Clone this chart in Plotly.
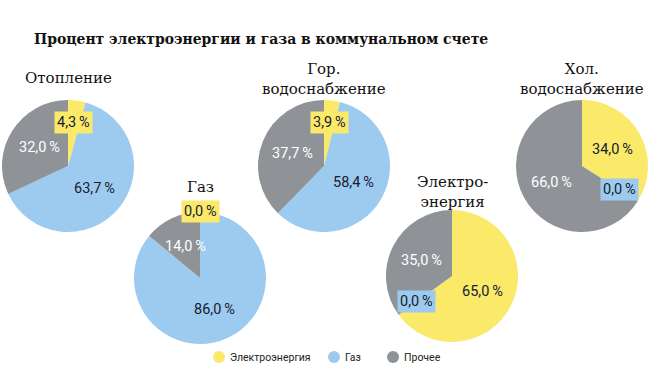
import math
import plotly.graph_objects as go

title = "Процент электроэнергии и газа в коммунальном счете"
series_names = ["Электроэнергия", "Газ", "Прочее"]
colors = ["#FBE96A", "#9DCBF0", "#8F9398"]

chart_titles = ["Отопление", "Газ", "Гор.<br>водоснабжение", "Электро-<br>энергия", "Хол.<br>водоснабжение"]
elec = [4.3, 0.0, 3.9, 65.0, 34.0]
gas = [63.7, 86.0, 58.4, 0.0, 0.0]
other = [32.0, 14.0, 37.7, 35.0, 66.0]

W, H = 650, 386
R = 66
centers = [(68, 166), (200, 278), (324, 166), (452, 276), (582, 166)]
title_y = [78, 187, 79, 192, 79]
legend_marker_x = [219, 334, 393]
legend_y = 357

fig = go.Figure()
annotations = []
shapes = []
for i, name in enumerate(chart_titles):
    cx, cy = centers[i]
    vals = [elec[i], gas[i], other[i]]
    fig.add_trace(go.Pie(
        labels=series_names, values=vals, sort=False, direction="clockwise", rotation=0,
        marker=dict(colors=colors, line=dict(width=0)), textinfo="none", hoverinfo="label+percent",
        showlegend=False,
        domain=dict(x=[(cx - R) / W, (cx + R) / W], y=[1 - (cy + R) / H, 1 - (cy - R) / H]),
    ))
    annotations.append(dict(text=name, x=cx / W, y=1 - title_y[i] / H, xref="paper", yref="paper",
                            showarrow=False, font=dict(family="DejaVu Serif", size=15, color="#111"),
                            xanchor="center", yanchor="middle"))
    total = sum(vals)
    cum = 0.0
    for j, v in enumerate(vals):
        mid = (cum + v / 2) / total * 2 * math.pi
        cum += v
        frac = v / total
        boxed = frac < 0.05
        if v == 0 and mid == 0:
            r = R
        elif boxed:
            r = 0.67 * R
        else:
            r = 0.52 * R
        px = cx + r * math.sin(mid)
        py = cy - r * math.cos(mid)
        txt = f"{v:.1f}".replace(".", ",") + "\u2009%"
        fcol = "#ffffff" if (j == 2 and not boxed) else "#17202e"
        ann = dict(text=txt, x=px / W, y=1 - py / H, xref="paper", yref="paper", showarrow=False,
                   font=dict(family="Roboto", size=14.5, color=fcol), xanchor="center", yanchor="middle")
        if boxed:
            ann.update(bgcolor=colors[j], borderpad=2)
        annotations.append(ann)

# custom legend
for j, n in enumerate(series_names):
    mx = legend_marker_x[j]
    shapes.append(dict(type="circle", xref="paper", yref="paper",
                       x0=(mx - 6) / W, x1=(mx + 6) / W,
                       y0=1 - (legend_y + 6) / H, y1=1 - (legend_y - 6) / H,
                       fillcolor=colors[j], line=dict(width=0)))
    annotations.append(dict(text=n, x=(mx + 9) / W, y=1 - legend_y / H, xref="paper", yref="paper",
                            showarrow=False, xanchor="left", yanchor="middle",
                            font=dict(family="Roboto", size=10.5, color="#222")))

annotations.append(dict(text="<b>" + title + "</b>", x=261 / W, y=1 - 38 / H, xref="paper", yref="paper",
                        showarrow=False, font=dict(family="DejaVu Serif Condensed", size=15.5, color="#111"),
                        xanchor="center", yanchor="middle"))

fig.update_layout(
    width=W, height=H, margin=dict(l=0, r=0, t=0, b=0),
    paper_bgcolor="white", plot_bgcolor="white",
    annotations=annotations, shapes=shapes, showlegend=False,
)
fig.write_html("out.html", config={"displayModeBar": False},
               post_script="document.body.style.margin='0';")
